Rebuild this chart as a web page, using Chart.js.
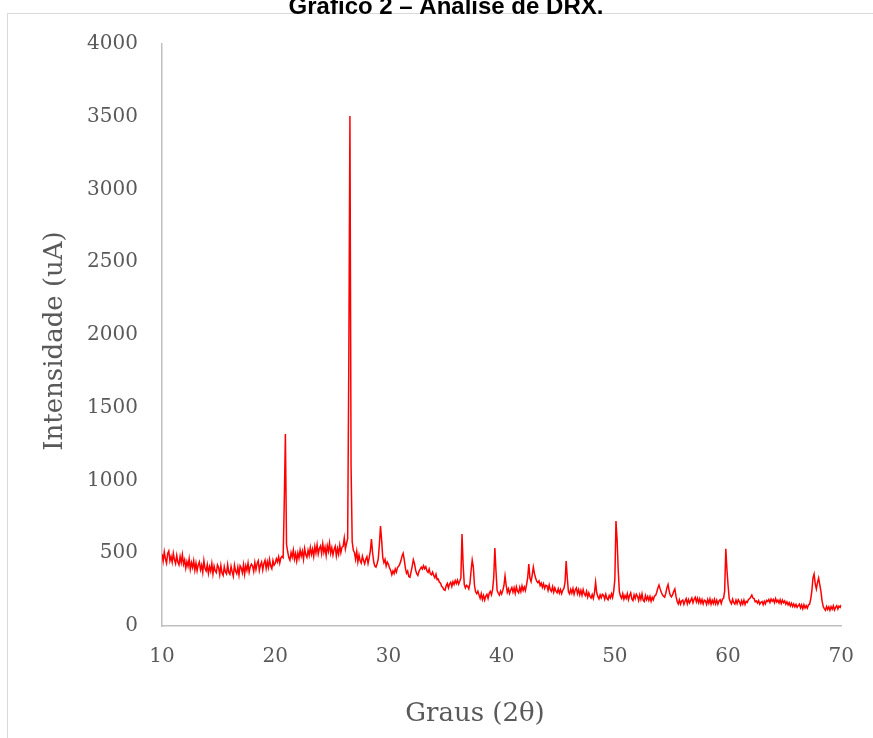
<!DOCTYPE html>
<html>
<head>
<meta charset="utf-8">
<script src="https://cdn.jsdelivr.net/npm/chart.js@4/dist/chart.umd.min.js"></script>
<style>
  html, body { margin: 0; padding: 0; background: #ffffff; }
  #wrap { position: relative; width: 873px; height: 738px; }
</style>
</head>
<body>
<div id="wrap"><canvas id="c"></canvas></div>
<script>
// ---- Data ----
const chartTitle = "Gráfico 2 – Análise de DRX.";
const xTitle = "Graus (2θ)";
const yTitle = "Intensidade (uA)";
const xTicks = [10, 20, 30, 40, 50, 60, 70];
const yTicks = [0, 500, 1000, 1500, 2000, 2500, 3000, 3500, 4000];
const startAngle = 10;   // 2θ of first sample
const angleStep = 0.1;   // sampling step (degrees)

// intensities, one row per degree (10.0 ... 10.9, 11.0 ... etc.)
const intensity10to19 = [
  495, 445, 510, 462, 432, 498, 515, 448, 478, 438,
  500, 455, 428, 485, 440, 420, 478, 436, 490, 425,
  455, 398, 442, 410, 462, 390, 436, 402, 448, 384,
  432, 380, 420, 440, 386, 418, 368, 450, 395, 378,
  422, 362, 408, 376, 430, 358, 412, 378, 366, 420,
  402, 352, 416, 364, 348, 408, 372, 358, 422, 368,
  355, 410, 372, 342, 418, 378, 360, 405, 350, 414,
  398, 365, 422, 356, 414, 382, 432, 370, 408, 425,
  412, 375, 436, 388, 428, 448, 382, 420, 440, 385,
  430, 452, 395, 442, 402, 458, 412, 394, 450, 418
];
const intensity20to29 = [
  431, 462, 440, 475, 432, 468, 478, 470, 850, 1320,
  560, 512, 470, 452, 505, 474, 522, 460, 498, 446,
  502, 466, 522, 480, 514, 458, 532, 490, 472, 520,
  485, 540, 492, 528, 478, 546, 502, 558, 494, 532,
  550, 498, 565, 506, 542, 485, 552, 514, 570, 500,
  538, 488, 526, 548, 482, 532, 494, 555, 504, 542,
  548, 605, 530, 568, 600, 1800, 3505, 1100, 580, 520,
  505, 458, 512, 440, 488, 448, 432, 480, 452, 428,
  458, 476, 430, 468, 515, 598, 505, 440, 412, 405,
  428, 460, 560, 687, 590, 470, 436, 458, 412, 440
];
const intensity30to39 = [
  425, 398, 382, 352, 378, 360, 392, 370, 402, 410,
  425, 448, 480, 500, 455, 398, 362, 378, 340, 335,
  372, 410, 455, 430, 385, 360, 348, 376, 390, 404,
  392, 414, 394, 408, 378, 368, 392, 358, 352, 370,
  348, 332, 356, 318, 322, 300, 295, 272, 265, 250,
  245, 276, 292, 262, 288, 300, 272, 304, 285, 312,
  292, 316, 288, 308, 330, 632, 420, 285, 262, 280,
  272, 255, 292, 380, 453, 405, 280, 235, 222, 240,
  214, 190, 222, 182, 210, 178, 205, 218, 190, 225,
  238, 214, 250, 330, 536, 380, 245, 225, 212, 240
];
const intensity40to49 = [
  220, 244, 275, 344, 280, 232, 256, 224, 248, 265,
  232, 262, 225, 270, 240, 228, 266, 236, 275, 244,
  268, 244, 284, 330, 426, 330, 305, 350, 405, 360,
  330, 308, 298, 310, 278, 294, 266, 290, 258, 280,
  276, 245, 282, 250, 238, 270, 232, 262, 240, 228,
  255, 226, 250, 222, 246, 258, 300, 447, 330, 235,
  220, 252, 226, 258, 218, 248, 262, 222, 250, 215,
  245, 212, 250, 220, 208, 238, 198, 228, 204, 192,
  216, 190, 228, 300, 228, 202, 186, 214, 194, 218,
  212, 184, 218, 190, 180, 210, 192, 222, 196, 240
];
const intensity50to59 = [
  320, 722, 590, 380, 235, 205, 190, 222, 184, 210,
  190, 222, 181, 210, 228, 186, 175, 214, 189, 219,
  205, 176, 214, 183, 221, 178, 168, 209, 181, 203,
  176, 203, 170, 197, 180, 206, 210, 232, 262, 282,
  255, 232, 215, 205, 198, 225, 262, 285, 240, 210,
  200, 215, 238, 254, 205, 170, 152, 180, 150, 172,
  178, 148, 171, 188, 152, 181, 158, 176, 192, 160,
  184, 198, 165, 190, 160, 187, 158, 182, 152, 178,
  173, 148, 182, 156, 186, 150, 177, 155, 184, 152,
  178, 150, 172, 181, 155, 184, 190, 240, 530, 390
];
const intensity60to70 = [
  280, 190, 165, 152, 184, 160, 150, 178, 154, 181,
  166, 145, 174, 150, 178, 148, 170, 162, 182, 188,
  198, 213, 192, 188, 166, 172, 158, 175, 150, 162,
  168, 146, 170, 152, 176, 168, 182, 162, 186, 170,
  182, 160, 188, 165, 178, 158, 181, 155, 178, 160,
  172, 150, 166, 145, 160, 138, 156, 134, 152, 132,
  148, 128, 140, 150, 124, 145, 118, 146, 124, 140,
  122, 145, 150, 185, 240, 330, 357, 290, 255, 300,
  330, 285, 240, 175, 135, 120, 108, 134, 114, 132,
  108, 133, 115, 138, 110, 128, 140, 116, 136, 128,
  145
];

const intensity = [].concat(intensity10to19, intensity20to29, intensity30to39,
                            intensity40to49, intensity50to59, intensity60to70);
const points = intensity.map((v, i) => ({ x: +(startAngle + i * angleStep).toFixed(2), y: v }));

// ---- Decorations: outer frame, chart title, axis titles ----
const decorPlugin = {
  id: 'decor',
  beforeDraw(chart) {
    const ctx = chart.ctx;
    ctx.save();
    ctx.fillStyle = '#ffffff';
    ctx.fillRect(0, 0, chart.width, chart.height);
    ctx.strokeStyle = '#d9d9d9';
    ctx.lineWidth = 1;
    ctx.strokeRect(7.5, 13.5, chart.width + 20, chart.height + 20);
    ctx.restore();
  },
  afterDraw(chart) {
    const ctx = chart.ctx;
    ctx.save();
    // chart title (partly cut at the top as in the reference)
    ctx.fillStyle = '#000000';
    ctx.font = 'bold 24px "Liberation Sans", Arial, sans-serif';
    ctx.textAlign = 'center';
    ctx.textBaseline = 'alphabetic';
    ctx.fillText(chartTitle, 446, 14);
    // x axis title
    ctx.fillStyle = '#595959';
    ctx.font = '26px "DejaVu Serif", serif';
    ctx.textBaseline = 'middle';
    ctx.fillText(xTitle, 475, 714);
    // y axis title
    ctx.translate(55, 341);
    ctx.rotate(-Math.PI / 2);
    ctx.fillText(yTitle, 0, 0);
    ctx.restore();
  }
};

const tickFont = { family: '"DejaVu Serif", serif', size: 20 };

new Chart(document.getElementById('c'), {
  type: 'line',
  data: {
    datasets: [{
      data: points,
      borderColor: '#ff0000',
      borderWidth: 1.5,
      pointRadius: 0,
      tension: 0,
      fill: false
    }]
  },
  options: {
    responsive: true,
    maintainAspectRatio: false,
    animation: false,
    layout: { padding: { left: 0, right: 27, top: 44, bottom: 0 } },
    plugins: { legend: { display: false }, tooltip: { enabled: false }, title: { display: false } },
    scales: {
      x: {
        type: 'linear',
        min: xTicks[0],
        max: xTicks[xTicks.length - 1],
        afterBuildTicks(scale) { scale.ticks = xTicks.map(v => ({ value: v })); },
        afterFit(scale) { scale.height = 112; },
        grid: { display: false, drawTicks: false },
        border: { display: true, color: '#bfbfbf', width: 1.5 },
        ticks: { font: tickFont, color: '#595959', padding: 19, maxRotation: 0, autoSkip: false,
                 callback: v => String(v) }
      },
      y: {
        type: 'linear',
        min: yTicks[0],
        max: yTicks[yTicks.length - 1],
        afterBuildTicks(scale) { scale.ticks = yTicks.map(v => ({ value: v })); },
        afterFit(scale) { scale.width = 162; },
        grid: { display: false, drawTicks: false },
        border: { display: true, color: '#bfbfbf', width: 1.5 },
        ticks: { font: tickFont, color: '#595959', padding: 24, callback: v => String(v) }
      }
    }
  },
  plugins: [decorPlugin]
});
</script>
</body>
</html>
